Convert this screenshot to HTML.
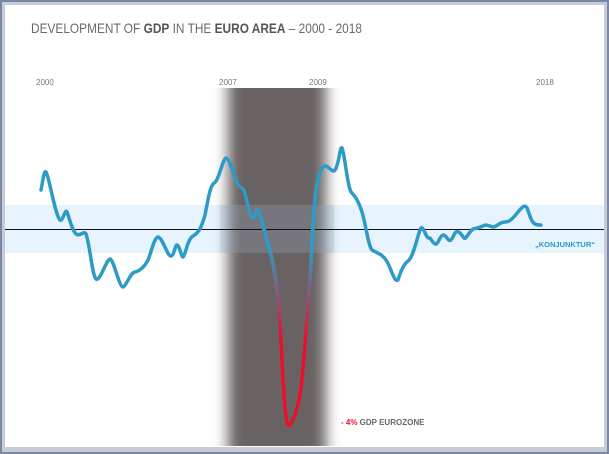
<!DOCTYPE html>
<html><head><style>
html,body{margin:0;padding:0;}
body{width:609px;height:454px;background:#7a88a6;position:relative;overflow:hidden;font-family:"Liberation Sans",sans-serif;}
</style></head><body>
<svg width="609" height="454" style="position:absolute;left:0;top:0">
<defs>
<linearGradient id="g" gradientUnits="userSpaceOnUse" x1="0" y1="250" x2="0" y2="340">
<stop offset="0" stop-color="#2e9bc6"/><stop offset="1" stop-color="#e8102a"/></linearGradient>
<filter id="bl" x="-50%" y="-10%" width="200%" height="120%"><feGaussianBlur stdDeviation="7 3"/></filter>
<clipPath id="cc"><rect x="200" y="88" width="160" height="358"/></clipPath>
<clipPath id="rc"><rect x="262" y="0" width="56" height="454"/></clipPath>
<path id="curve" d="M41,190 C43,180 44,170 46,172 C49,176 55,215 60,220 C63,222 65,208 67,212 C70,220 72,230 76,234 C80,237 84,230 86,234 C90,245 92,275 96,279 C100,282 106,260 110,259 C114,260 119,287 123,287 C127,285 130,273 135,272 C140,271 145,266 148,260 C151,253 154,238 158,237 C163,238 167,256 171,256 C174,256 175,245 177,245 C180,246 181,257 183,257 C186,254 187,240 193,236 C200,232 202,225 205,215 C208,200 210,186 214,183 C219,181 222,160 226,158 C229,158 234,175 237,183 C239,188 243,186 245,193 C248,205 250,218 253,218 C256,217 256,208 258,210 C261,215 265,235 271,255 C276,275 279,300 281,340 C283,385 285,420 288,425 C291,427 296,415 300,395 C304,370 307,310 310,280 C312,250 313,215 316,190 C319,172 322,165 326,166 C330,168 333,173 335,170 C339,165 340,145 342,148 C345,155 347,185 351,192 C355,196 358,200 362,212 C366,225 368,245 372,250 C377,253 382,254 386,260 C391,267 394,283 398,280 C401,270 404,264 408,261 C414,257 418,232 421,228 C424,226 426,240 430,238 C434,244 436,246 438,242 C441,236 443,232 447,238 C451,244 452,238 455,233 C458,229 461,234 464,238 C466,240 468,233 473,229 C477,228 479,228 483,226 C486,224 489,226 493,227 C496,227 500,222 505,222 C510,222 513,218 518,212 C522,207 525,204 527,208 C530,215 531,222 535,224 C537,225 539,225 541,225"/>
</defs>
<rect x="0" y="0" width="609" height="454" fill="#7a88a6"/>
<rect x="2" y="2" width="605" height="450" fill="#c6cbd6"/>
<rect x="5" y="5" width="599" height="442" fill="#fff"/>
<rect x="5" y="205" width="599" height="48" fill="#e7f3fd"/>
<g clip-path="url(#cc)"><rect x="228" y="82" width="98" height="370" fill="#676262" filter="url(#bl)"/></g>
<rect x="220" y="205" width="114" height="48" fill="#9fb4cc" opacity="0.25"/>
<line x1="5" y1="229.5" x2="604" y2="229.5" stroke="#111" stroke-width="1"/>
<use href="#curve" fill="none" stroke="#2e9bc6" stroke-width="3.5" stroke-linejoin="round" stroke-linecap="round"/>
<use href="#curve" fill="none" stroke="url(#g)" stroke-width="3.6" stroke-linejoin="round" stroke-linecap="round" clip-path="url(#rc)"/>
<text x="31" y="33" font-family="Liberation Sans Narrow,Liberation Sans,sans-serif" font-size="14" fill="#6a6a6a" textLength="331" lengthAdjust="spacingAndGlyphs">DEVELOPMENT OF <tspan font-weight="bold" fill="#555">GDP</tspan> IN THE <tspan font-weight="bold" fill="#555">EURO AREA</tspan> – 2000 - 2018</text>
<g font-size="8" fill="#777">
<text x="36" y="85">2000</text>
<text x="219" y="85">2007</text>
<text x="309" y="85">2009</text>
<text x="536" y="85">2018</text>
</g>
<text x="535" y="247" font-size="7.5" font-weight="bold" fill="#2e9bc6">„KONJUNKTUR“</text>
<text x="341" y="425" font-size="8" font-weight="bold" fill="#666"><tspan fill="#e8102a">- 4%</tspan> GDP EUROZONE</text>
</svg>
</body></html>
